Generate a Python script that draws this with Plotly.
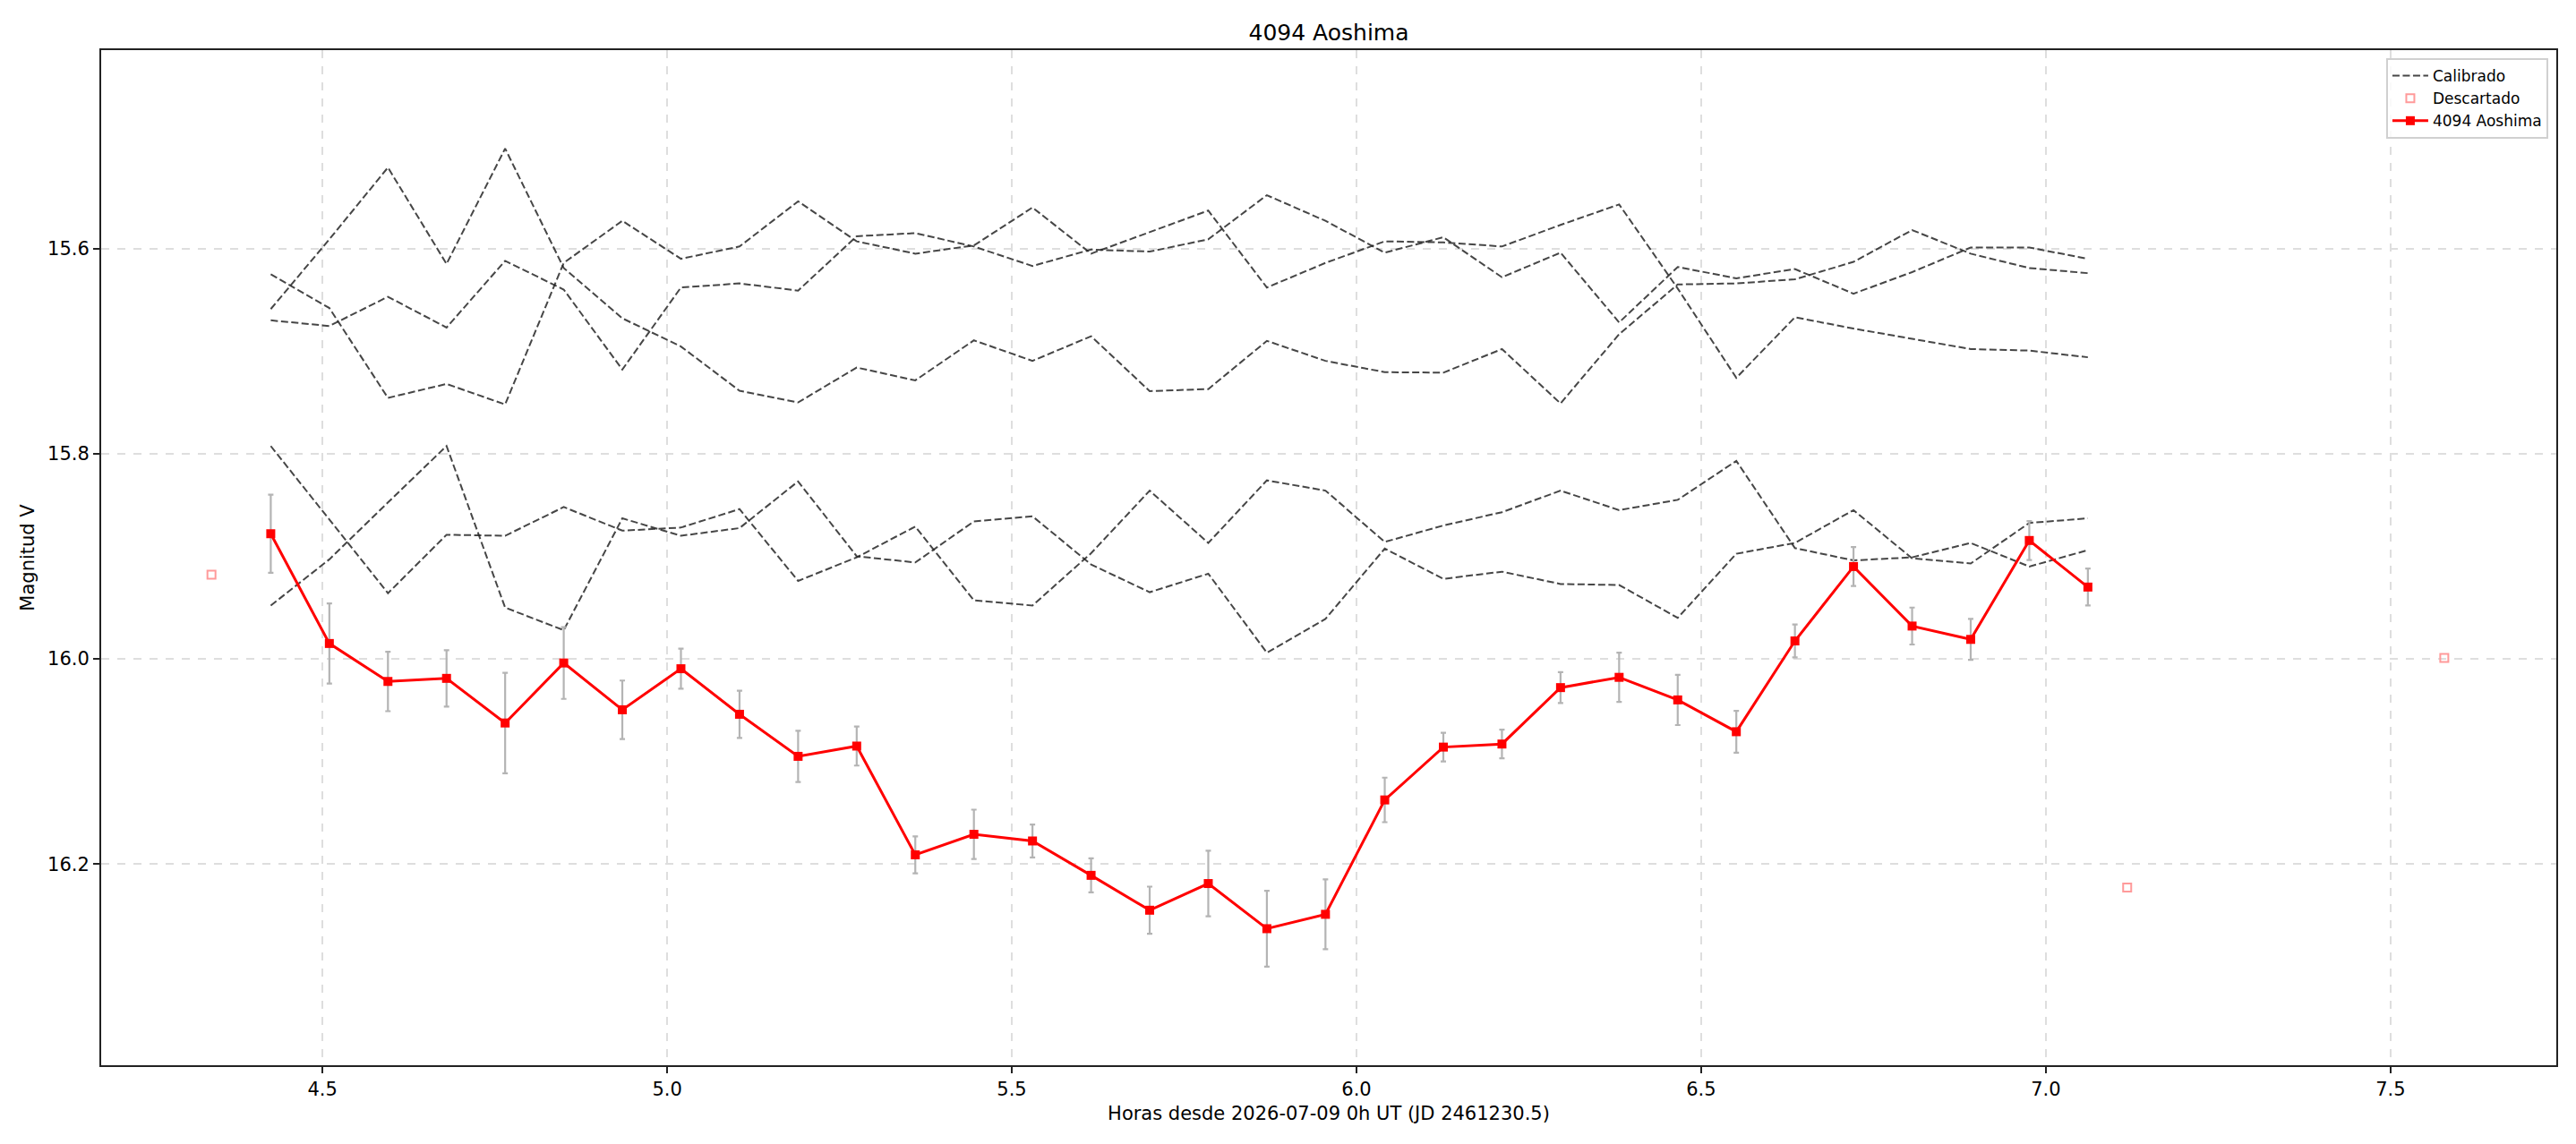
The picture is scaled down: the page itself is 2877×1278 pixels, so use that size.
import plotly.graph_objects as go

# ---- data ----
horas = [4.425, 4.510, 4.595, 4.680, 4.765, 4.850, 4.935, 5.020, 5.105, 5.190,
         5.275, 5.360, 5.445, 5.530, 5.615, 5.700, 5.785, 5.870, 5.955, 6.041,
         6.126, 6.211, 6.296, 6.381, 6.466, 6.551, 6.636, 6.721, 6.806, 6.891,
         6.976, 7.061]

aoshima_mag = [15.878, 15.985, 16.022, 16.019, 16.0625, 16.004, 16.0496, 16.0096,
               16.054, 16.095, 16.085, 16.191, 16.171, 16.1775, 16.211, 16.245,
               16.219, 16.263, 16.249, 16.1375, 16.086, 16.083, 16.028, 16.018,
               16.040, 16.071, 15.9825, 15.910, 15.968, 15.981, 15.8846, 15.930]
aoshima_err = [0.038, 0.039, 0.029, 0.0275, 0.049, 0.035, 0.0285, 0.0195,
               0.023, 0.025, 0.019, 0.018, 0.024, 0.016, 0.0165, 0.023,
               0.032, 0.037, 0.034, 0.0217, 0.014, 0.014, 0.015, 0.024,
               0.0245, 0.0204, 0.016, 0.019, 0.018, 0.020, 0.019, 0.018]

calib_1 = [15.659, 15.591, 15.521, 15.615, 15.5025, 15.619, 15.668, 15.6955,
           15.7386, 15.750, 15.716, 15.7285, 15.6895, 15.7095, 15.6855, 15.739,
           15.737, 15.690, 15.7095, 15.7205, 15.721, 15.698, 15.751, 15.6835,
           15.635, 15.634, 15.630, 15.613, 15.582, 15.605, 15.619, 15.624]
calib_2 = [15.625, 15.658, 15.7456, 15.732, 15.752, 15.614, 15.573, 15.610,
           15.598, 15.554, 15.593, 15.605, 15.597, 15.560, 15.605, 15.584,
           15.563, 15.638, 15.614, 15.593, 15.594, 15.598, 15.577, 15.557,
           15.639, 15.726, 15.667, 15.678, 15.688, 15.698, 15.6995, 15.706]
calib_3 = [15.670, 15.6755, 15.647, 15.677, 15.612, 15.640, 15.718, 15.638,
           15.634, 15.641, 15.588, 15.585, 15.598, 15.617, 15.601, 15.603,
           15.591, 15.548, 15.573, 15.604, 15.589, 15.628, 15.604, 15.672,
           15.618, 15.629, 15.620, 15.644, 15.623, 15.599, 15.599, 15.610]
calib_4 = [15.7925, 15.864, 15.936, 15.879, 15.880, 15.852, 15.875, 15.872,
           15.854, 15.924, 15.901, 15.871, 15.943, 15.948, 15.897, 15.836,
           15.887, 15.826, 15.836, 15.886, 15.870, 15.857, 15.836, 15.855,
           15.845, 15.807, 15.892, 15.904, 15.901, 15.887, 15.910, 15.894]
calib_5 = [15.948, 15.903, 15.8475, 15.7925, 15.950, 15.972, 15.863, 15.880,
           15.8725, 15.827, 15.900, 15.906, 15.866, 15.861, 15.908, 15.935,
           15.917, 15.994, 15.961, 15.8925, 15.922, 15.915, 15.927, 15.928,
           15.960, 15.8975, 15.887, 15.855, 15.902, 15.907, 15.8675, 15.863]
calibrados = [calib_1, calib_2, calib_3, calib_4, calib_5]

descartado_h = [4.339, 7.118, 7.578]
descartado_mag = [15.918, 16.223, 15.999]

x_ticks = [4.5, 5.0, 5.5, 6.0, 6.5, 7.0, 7.5]
y_ticks = [15.6, 15.8, 16.0, 16.2]

titulo = "4094 Aoshima"
x_label = "Horas desde 2026-07-09 0h UT (JD 2461230.5)"
y_label = "Magnitud V"

# ---- figure ----
FONT = "DejaVu Sans"
fig = go.Figure()

for i, serie in enumerate(calibrados):
    fig.add_trace(go.Scatter(
        x=horas, y=serie, mode="lines",
        line=dict(color="rgba(38,38,38,0.85)", width=2, dash="8px,3.5px"),
        name="Calibrado", legendgroup="cal", showlegend=(i == 0),
        hoverinfo="skip"))

fig.add_trace(go.Scatter(
    x=descartado_h, y=descartado_mag, mode="markers",
    marker=dict(symbol="square-open", size=9, color="#ff9a9a",
                line=dict(width=2, color="#ff9a9a")),
    name="Descartado"))

fig.add_trace(go.Scatter(
    x=horas, y=aoshima_mag, mode="lines+markers",
    line=dict(color="#ff0000", width=3),
    marker=dict(symbol="square", size=10, color="#ff0000"),
    error_y=dict(type="data", array=aoshima_err, visible=True,
                 color="#b4b4b4", thickness=2.2, width=3),
    name=titulo))

fig.update_layout(
    width=2877, height=1278,
    margin=dict(l=113, r=22, t=56, b=88),
    paper_bgcolor="white", plot_bgcolor="white",
    font=dict(family=FONT, size=21, color="black"),
    title=dict(text=titulo, x=0.5, xref="paper", xanchor="center",
               y=1 - 36 / 1278, yref="container", yanchor="middle",
               font=dict(family=FONT, size=25, color="black")),
    showlegend=True,
    legend=dict(x=0.9967, y=0.992, xanchor="right", yanchor="top",
                bgcolor="rgba(255,255,255,0.85)", bordercolor="#d0d0d0",
                borderwidth=2, font=dict(family=FONT, size=17),
                itemwidth=40, tracegroupgap=0),
)

fig.update_xaxes(
    range=[4.179, 7.7405], tickvals=x_ticks, tickformat=".1f",
    showline=True, linecolor="#222222", linewidth=2, mirror=True,
    ticks="outside", ticklen=7, tickwidth=2, tickcolor="#222222",
    showgrid=True, gridcolor="#dedede", gridwidth=1.5, griddash="dash",
    zeroline=False, tickfont=dict(family=FONT, size=21),
    title=dict(text=x_label, standoff=8, font=dict(family=FONT, size=21)))

fig.update_yaxes(
    range=[16.3961, 15.4066], tickvals=y_ticks, tickformat=".1f",
    showline=True, linecolor="#222222", linewidth=2, mirror=True,
    ticks="outside", ticklen=7, tickwidth=2, tickcolor="#222222",
    showgrid=True, gridcolor="#dedede", gridwidth=1.5, griddash="dash",
    zeroline=False, tickfont=dict(family=FONT, size=21),
    title=dict(text=y_label, standoff=9, font=dict(family=FONT, size=21)))

fig.write_html("out.html")
